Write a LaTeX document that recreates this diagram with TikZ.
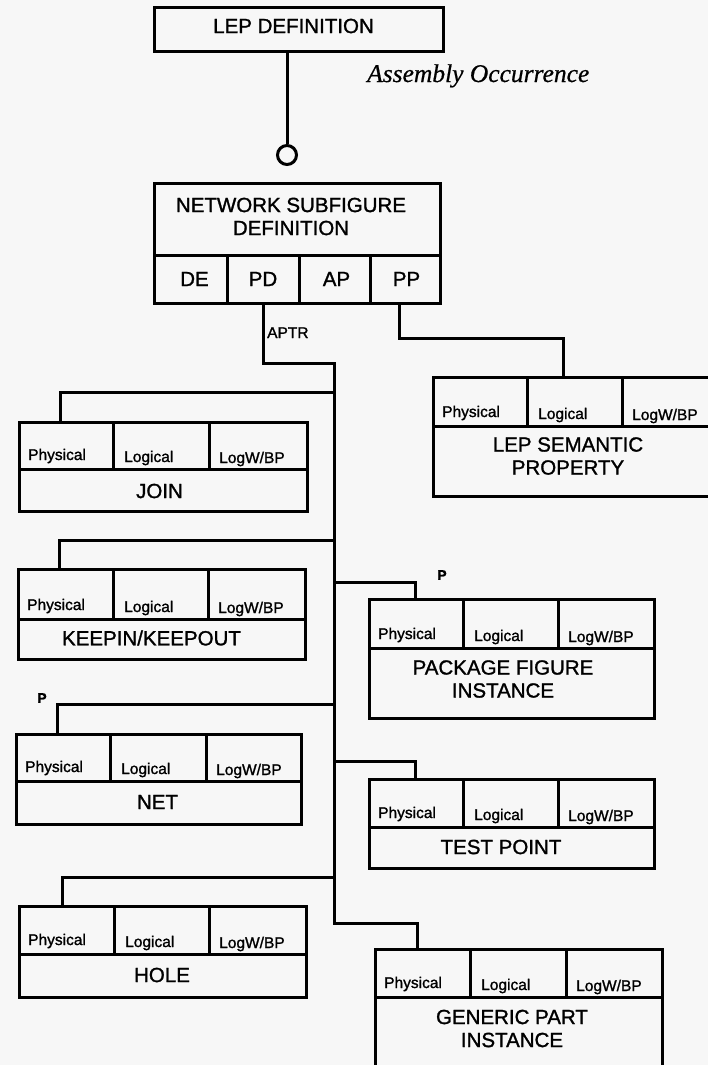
\documentclass[tikz,border=0pt]{standalone}
\usepackage{fontspec}
\setmainfont[FakeBold=1.3]{Liberation Sans}
\newfontfamily\captionserif[FakeBold=0.6]{Liberation Serif}
\usetikzlibrary{calc}
\definecolor{paper}{RGB}{247,247,247}
\tikzset{
  wire/.style={line width=3pt},
  cellbox/.style={draw, line width=3pt, rectangle, anchor=north west, inner sep=0pt, outer sep=0pt},
  headtext/.style={inner sep=0pt, align=center, font=\fontsize{20.5pt}{23pt}\selectfont},
  celltext/.style={inner sep=0pt, anchor=base west, font=\fontsize{15.5pt}{17pt}\selectfont},
  tagtext/.style={inner sep=0pt, font=\bfseries\fontsize{14pt}{16pt}\selectfont},
}
% Record with a row of three property cells above a body cell.
% #1 name, #2 left, #3 first divider, #4 second divider, #5 right,
% #6 top, #7 middle rule, #8 bottom
\newcommand\recbox[8]{%
  \node[cellbox, minimum width={(#3-#2)*1pt}, minimum height={(#7-#6)*1pt}] (#1-phy) at (#2,#6) {};
  \node[cellbox, minimum width={(#4-#3)*1pt}, minimum height={(#7-#6)*1pt}] (#1-log) at (#3,#6) {};
  \node[cellbox, minimum width={(#5-#4)*1pt}, minimum height={(#7-#6)*1pt}] (#1-lbp) at (#4,#6) {};
  \node[cellbox, minimum width={(#5-#2)*1pt}, minimum height={(#8-#7)*1pt}] (#1-body) at (#2,#7) {};
  \node[celltext] (#1-phyt) at ($(#1-phy.south west)+(9,-9)$) {Physical};
  \node[celltext] (#1-logt) at ($(#1-log.south west)+(11,-7)$) {Logical};
  \node[celltext] (#1-lbpt) at ($(#1-lbp.south west)+(10,-6)$) {LogW/BP};
}
\begin{document}
\begin{tikzpicture}[x=1pt,y=-1pt]
\useasboundingbox (0,0) rectangle (708,1065);
\clip (0,0) rectangle (708,1065);
\fill[paper] (0,0) rectangle (708,1065);

% top definition and occurrence marker
\node[cellbox, minimum width=289pt, minimum height=44pt] (lepdef) at (154,8) {};
\node[headtext] (lepdef-t) at (293.5,26) {LEP DEFINITION};
\node[draw, circle, line width=3pt, minimum size=19pt, inner sep=0pt] (occ) at (287,155) {};
\draw[wire] (lepdef.south -| occ) -- (occ.north);
\node[inner sep=0pt, anchor=base west, font=\captionserif\itshape\fontsize{25.5pt}{28pt}\selectfont] (occ-t) at (367,82) {Assembly Occurrence};

% network subfigure definition with its four attribute cells
\node[cellbox, minimum width=286pt, minimum height=72pt] (nsd) at (154,183) {};
\node[headtext] (nsd-t) at (291,216.5) {NETWORK SUBFIGURE\\DEFINITION};
\node[cellbox, minimum width=73pt, minimum height=48pt, font=\fontsize{20.5pt}{23pt}\selectfont] (de) at (154,255) {\hspace{8pt}DE};
\node[cellbox, minimum width=72pt, minimum height=48pt, font=\fontsize{20.5pt}{23pt}\selectfont] (pd) at (227,255) {PD};
\node[cellbox, minimum width=71pt, minimum height=48pt, font=\fontsize{20.5pt}{23pt}\selectfont] (ap) at (299,255) {\hspace{4pt}AP};
\node[cellbox, minimum width=70pt, minimum height=48pt, font=\fontsize{20.5pt}{23pt}\selectfont] (pp) at (370,255) {\hspace{3pt}PP};

% records
\recbox{lsp}{433}{527}{622}{712}{377}{426}{496}
\recbox{join}{19}{113}{209}{307}{422}{469}{511}
\recbox{keep}{18}{113}{208}{305}{569}{619}{659}
\recbox{pfi}{369}{463}{558}{654}{599}{648}{718}
\recbox{net}{16}{110}{206}{301}{734}{781}{824}
\recbox{tp}{369}{463}{558}{654}{779}{827}{868}
\recbox{hole}{19}{114}{209}{306}{906}{954}{997}
\recbox{gpi}{375}{470}{566}{662}{949}{997}{1090}

\node[headtext] (lsp-t) at (568,456) {LEP SEMANTIC\\PROPERTY};
\node[headtext] (join-t) at (159.5,491) {JOIN};
\node[headtext] (keep-t) at (151.5,638) {KEEPIN/KEEPOUT};
\node[headtext] (pfi-t) at (503,679) {PACKAGE FIGURE\\INSTANCE};
\node[headtext] (net-t) at (157.5,802) {NET};
\node[headtext] (tp-t) at (501,847) {TEST POINT};
\node[headtext] (hole-t) at (162,975) {HOLE};
\node[headtext] (gpi-t) at (512,1028.5) {GENERIC PART\\INSTANCE};

% APTR trunk and its branches
\coordinate (aptr-bend) at (334,363);
\coordinate (trunk-end) at (334,923);
\draw[wire] (pd.south) |- (aptr-bend) -- (trunk-end) -| ($(gpi-phy.north west)+(42,0)$);
\node[celltext] (aptr) at (267,338) {APTR};

\coordinate (tap-join) at (334,392);
\coordinate (tap-keep) at (334,540);
\coordinate (tap-pfi) at (334,582);
\coordinate (tap-net) at (334,704);
\coordinate (tap-tp) at (334,761);
\coordinate (tap-hole) at (334,877);
\draw[wire] (tap-join) -| ($(join-phy.north west)+(41,0)$);
\draw[wire] (tap-keep) -| ($(keep-phy.north west)+(41,0)$);
\draw[wire] (tap-pfi) -| ($(pfi-phy.north west)+(46,0)$);
\draw[wire] (tap-net) -| ($(net-phy.north west)+(41,0)$);
\draw[wire] (tap-tp) -| ($(tp-phy.north west)+(46,0)$);
\draw[wire] (tap-hole) -| ($(hole-phy.north west)+(43,0)$);

% PP link to the semantic property record
\draw[wire] ([xshift=-6pt]pp.south) -- ++(0,35) -| ($(lsp-log.north west)+(36,0)$);

% plural markers
\node[tagtext] (pfi-tag) at (442,575) {P};
\node[tagtext] (net-tag) at (42,698) {P};
\end{tikzpicture}
\end{document}
